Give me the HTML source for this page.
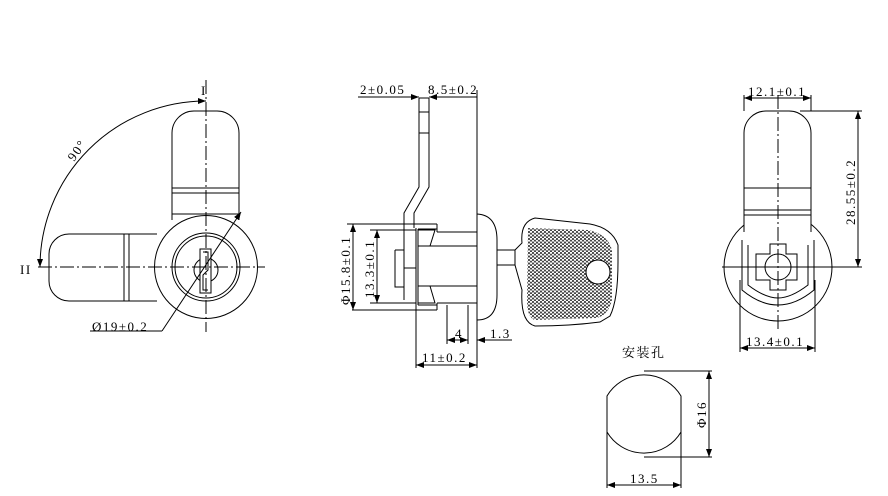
<!DOCTYPE html>
<html><head><meta charset="utf-8"><style>
html,body{margin:0;padding:0;background:#fff;}
svg{display:block;}
text{font-family:"Liberation Serif","Noto Serif CJK SC",serif;font-size:13px;fill:#000;letter-spacing:1.5px;}
</style></head><body>
<svg width="888" height="496" viewBox="0 0 888 496" xmlns="http://www.w3.org/2000/svg">
<defs>
<marker id="a" markerWidth="8" markerHeight="6" refX="8" refY="3" orient="auto-start-reverse" markerUnits="userSpaceOnUse"><path d="M0,0 L8,3 L0,6 z" fill="#000"/></marker>
<pattern id="hex" width="4" height="3.5" patternUnits="userSpaceOnUse"><circle cx="1" cy="1" r="1.1" fill="#444"/><circle cx="3" cy="2.75" r="1.1" fill="#444"/></pattern>
</defs>
<g fill="none" stroke="#000" stroke-width="1">
<!-- LEFT VIEW -->
<path d="M172,220 L172,133 A22,22 0 0 1 194,111 L217,111 A22,22 0 0 1 239,133 L239,220"/>
<line x1="172" y1="188" x2="239" y2="188"/><line x1="172" y1="193" x2="239" y2="193"/><line x1="172" y1="214" x2="239" y2="214"/>
<path d="M157,234 L69,234 A20,20 0 0 0 49,254 L49,281 A20,20 0 0 0 69,301 L157,301"/>
<line x1="124" y1="234" x2="124" y2="301"/><line x1="129" y1="234" x2="129" y2="301"/>
<circle cx="206" cy="267" r="51.5" fill="#fff"/>
<circle cx="206" cy="267" r="34"/><circle cx="206" cy="267" r="31"/>
<circle cx="206" cy="270" r="12"/>
<rect x="200" y="249" width="11" height="44" fill="#fff"/>
<path d="M203,252 L208,252 L208,270 L203,275 L203,290 L208,290"/>
<line x1="206" y1="80" x2="206" y2="332" stroke-dasharray="14,3,2,3"/>
<line x1="38" y1="267" x2="265" y2="267" stroke-dasharray="14,3,2,3"/>
<path d="M206,101 A166,166 0 0 0 40,267" marker-start="url(#a)" marker-end="url(#a)"/>
<line x1="241" y1="212" x2="162" y2="331" marker-start="url(#a)"/>
<line x1="90" y1="331" x2="162" y2="331"/>
<!-- MIDDLE VIEW -->
<line x1="358" y1="97" x2="419" y2="97" marker-end="url(#a)"/>
<line x1="429" y1="97" x2="477" y2="97" marker-start="url(#a)"/>
<path d="M419,98 L419,187 L404,213 L404,300"/>
<path d="M429,98 L429,187 L414,213 L414,228"/>
<line x1="419" y1="98" x2="429" y2="98"/>
<line x1="419" y1="112" x2="429" y2="112"/><line x1="419" y1="133" x2="429" y2="133"/>
<line x1="477" y1="90" x2="477" y2="368"/>
<line x1="416" y1="228" x2="416" y2="368"/><line x1="418" y1="229" x2="418" y2="305"/>
<path d="M395,250 L404,250 M395,250 L395,287 L404,287"/>
<path d="M404,268 L416,268"/>
<line x1="347" y1="224" x2="437" y2="224"/><line x1="352" y1="310" x2="437" y2="310"/>
<path d="M437,224 L437,232 M437,303 L437,310"/>
<path d="M418,229 L437,229 L437,224 M418,305 L437,305"/>
<path d="M418,230 L435,230 L430,246 L418,246"/>
<path d="M418,303 L435,303 L430,286 L418,286"/>
<path d="M430,246 L477,246 M430,286 L477,286"/>
<path d="M437,232 L477,232 M437,303 L477,303"/>
<path d="M477,214 Q497,215 497,240 L497,295 Q497,320 477,320"/>
<rect x="497" y="250" width="18" height="15"/>
<line x1="447" y1="305" x2="447" y2="344"/><line x1="468" y1="305" x2="468" y2="344"/>
<path d="M515,250 L522,243 Q520,222 535,218 L590,224 Q612,228 618,245 L618,262 Q618,300 610,316 L600,322 Q570,326 535,326 Q520,322 522,290 L515,265 Z"/>
<path d="M528,228 L588,230 Q608,234 612,250 L612,300 Q608,316 596,318 L535,320 Q527,318 527,300 Z" fill="url(#hex)" stroke="none"/>
<circle cx="598" cy="272" r="12" fill="#fff"/>
<line x1="353" y1="224" x2="353" y2="310" marker-start="url(#a)" marker-end="url(#a)"/>
<line x1="377" y1="230" x2="377" y2="303" marker-start="url(#a)" marker-end="url(#a)"/>
<line x1="370" y1="230" x2="416" y2="230"/><line x1="370" y1="303" x2="416" y2="303"/>
<line x1="447" y1="340" x2="468" y2="340" marker-start="url(#a)" marker-end="url(#a)"/>
<line x1="477" y1="340" x2="512" y2="340" marker-start="url(#a)"/>
<line x1="416" y1="365" x2="477" y2="365" marker-start="url(#a)" marker-end="url(#a)"/>
<!-- RIGHT VIEW -->
<circle cx="778" cy="267" r="54"/>
<path d="M744,232 L744,133 A22,22 0 0 1 766,111 L789,111 A22,22 0 0 1 811,133 L811,232 Z" fill="#fff" stroke="none"/>
<path d="M744,232 L744,133 A22,22 0 0 1 766,111 L789,111 A22,22 0 0 1 811,133 L811,232"/>
<line x1="744" y1="188" x2="811" y2="188"/><line x1="744" y1="210" x2="811" y2="210"/><line x1="744" y1="215" x2="811" y2="215"/>
<path d="M742,240 L742,290 Q760,305 778,305 Q796,305 814,290 L814,240"/>
<path d="M748,245 L748,285 Q765,298 778,298 Q791,298 808,285 L808,245"/>
<path d="M770,244 L786,244 L786,254 L797,254 L797,280 L786,280 L786,290 L770,290 L770,280 L756,280 L756,254 L770,254 Z"/>
<circle cx="778" cy="267" r="13"/>
<line x1="778" y1="95" x2="778" y2="330" stroke-dasharray="14,3,2,3"/>
<line x1="722" y1="267" x2="862" y2="267"/>
<line x1="744" y1="95" x2="744" y2="111"/><line x1="811" y1="95" x2="811" y2="111"/>
<line x1="744" y1="98" x2="811" y2="98" marker-start="url(#a)" marker-end="url(#a)"/>
<line x1="800" y1="111" x2="862" y2="111"/>
<line x1="858" y1="111" x2="858" y2="267" marker-start="url(#a)" marker-end="url(#a)"/>
<line x1="740" y1="280" x2="740" y2="352"/><line x1="815" y1="280" x2="815" y2="352"/>
<line x1="740" y1="348" x2="815" y2="348" marker-start="url(#a)" marker-end="url(#a)"/>
<!-- HOLE -->
<path d="M607,432 A43,43 0 0 0 681,432 L681,396 A43,43 0 0 0 607,396 Z"/>
<line x1="644" y1="371" x2="712" y2="371"/><line x1="644" y1="457" x2="712" y2="457"/>
<line x1="709" y1="371" x2="709" y2="457" marker-start="url(#a)" marker-end="url(#a)"/>
<line x1="607" y1="432" x2="607" y2="488"/><line x1="681" y1="432" x2="681" y2="488"/>
<line x1="607" y1="485" x2="681" y2="485" marker-start="url(#a)" marker-end="url(#a)"/>
</g>
<text x="201" y="95" font-size="15">I</text>
<text x="20" y="274" font-size="15">II</text>
<text transform="translate(74,162) rotate(-55)" font-size="15">90°</text>
<text x="92" y="331" font-size="15">Ø19±0.2</text>
<text x="360" y="94" font-size="11">2±0.05</text>
<text x="428" y="94" font-size="12">8.5±0.2</text>
<text transform="translate(350,305) rotate(-90)" font-size="13">Φ15.8±0.1</text>
<text transform="translate(374,298) rotate(-90)" font-size="13">13.3±0.1</text>
<text x="455" y="338" font-size="13">4</text>
<text x="490" y="338" font-size="13">1.3</text>
<text x="422" y="362" font-size="13">11±0.2</text>
<text x="748" y="96" font-size="13">12.1±0.1</text>
<text transform="translate(855,225) rotate(-90)" font-size="13">28.55±0.2</text>
<text x="746" y="346" font-size="13">13.4±0.1</text>
<text x="622" y="357" font-size="13">安装孔</text>
<text transform="translate(706,428) rotate(-90)" font-size="13">Φ16</text>
<text x="630" y="483" font-size="13">13.5</text>
</svg>
</body></html>
